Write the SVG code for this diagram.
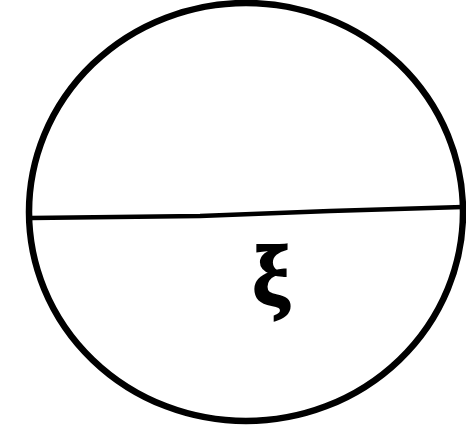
<svg xmlns="http://www.w3.org/2000/svg" width="466" height="442" viewBox="0 0 466 442">
<style>
.outline{fill:none;stroke:#000;stroke-width:6.5}
.dia{fill:none;stroke:#000;stroke-width:4.5;stroke-linecap:round}
.sym{font-family:"Liberation Serif","DejaVu Serif",serif;font-weight:bold;font-size:84px;fill:#000;stroke:#000;stroke-width:2}
</style>
<rect width="466" height="442" fill="#fff"/>
<g id="circle">
<ellipse class="outline" cx="246" cy="212" rx="217" ry="209"/>
</g>
<g id="connectors">
<path class="dia" d="M31 218 L200 216 L330 211 L463 207"/>
</g>
<g id="label">
<text class="sym" x="271" y="304" text-anchor="middle">ξ</text>
</g>
</svg>
